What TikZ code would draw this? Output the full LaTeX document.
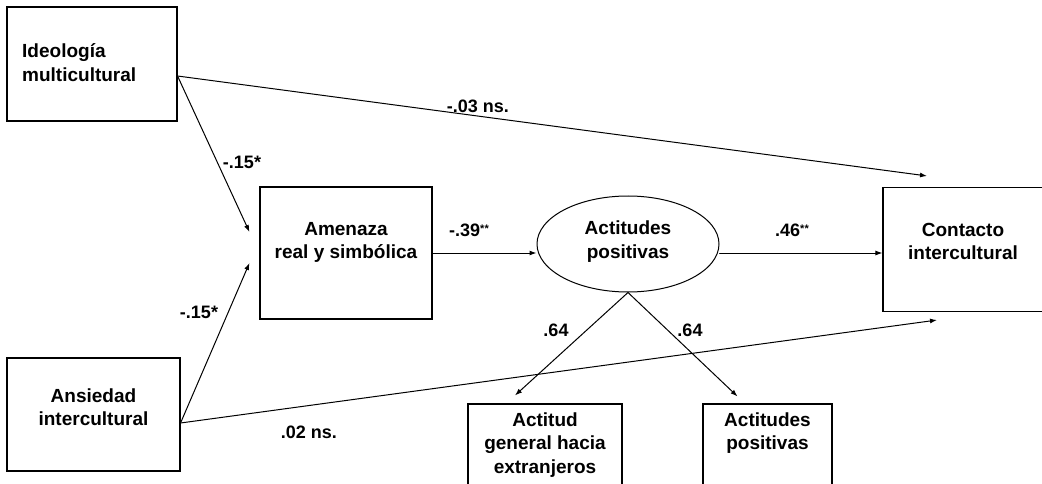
\documentclass[tikz,border=0pt]{standalone}
\usepackage{fontspec}
\setmainfont{Liberation Sans}
\usetikzlibrary{positioning,arrows.meta,shapes.geometric}

\tikzset{
  box/.style={draw, line width=1.1pt, rectangle, inner sep=0pt},
  txt/.style={align=center, inner sep=0pt, font=\fontsize{19}{23.5}\selectfont\bfseries},
  coef/.style={inner sep=0pt, font=\fontsize{18}{20}\selectfont\bfseries},
  arr/.style={-{Latex[length=7pt,width=5pt]}, line width=1pt},
}
\newcommand{\sig}[1]{\raisebox{4pt}{\fontsize{11}{11}\selectfont #1}}

\begin{document}
\begin{tikzpicture}[x=1pt,y=-1pt,line cap=round]
  \clip (0,0) rectangle (1042,484);
  \fill[white] (0,0) rectangle (1042,484);

  % predictores
  \node[box, minimum width=170pt, minimum height=114pt] (ideo) at (92,64) {};
  \node[txt, align=left, anchor=west] (ideotxt) at (22,62.5) {Ideología\\multicultural};

  \node[box, minimum width=173pt, minimum height=113pt] (ans) at (93.5,414.5) {};
  \node[txt] (anstxt) at (93.5,407) {Ansiedad\\intercultural};

  % mediador
  \node[box, minimum width=172pt, minimum height=132pt] (ame) at (346,253) {};
  \node[txt] (ametxt) at (346,242.5) {Amenaza\\real y simbólica};

  % latente
  \node[ellipse, draw, line width=1pt, minimum width=182pt, minimum height=96pt, inner sep=0pt] (ell) at (628,244) {};
  \node[txt] (elltxt) at (628,241.5) {Actitudes\\positivas};

  % criterio
  \node[box, minimum width=162pt, minimum height=124pt] (cont) at (964,249.5) {};
  \node[txt] (conttxt) at (963,241.5) {Contacto\\intercultural};

  % indicadores
  \node[box, minimum width=154pt, minimum height=100pt] (gen) at (545,454) {};
  \node[txt, below=9pt of gen.north] (gentxt) {Actitud\\general hacia\\extranjeros};

  \node[box, minimum width=129pt, minimum height=100pt] (pos) at (767.5,454) {};
  \node[txt, below=9pt of pos.north] (postxt) {Actitudes\\positivas};

  % rutas
  \draw[arr] ([yshift=-12pt]ideo.east) -- ([xshift=-10pt,yshift=21pt]ame.west);
  \draw[arr] ([yshift=-12pt]ideo.east) -- ([xshift=-37pt,yshift=11pt]cont.north);
  \draw[arr] ([yshift=-8.5pt]ans.east) -- ([xshift=-10pt,yshift=-10pt]ame.west);
  \draw[arr] ([yshift=-8.5pt]ans.east) -- ([xshift=-27pt,yshift=-8pt]cont.south);
  \draw[arr] (ame.east) -- (ame.east -| ell.west);
  \draw[arr] (ell.east |- ame.east) -- (cont.west |- ame.east);
  \draw[arr] (ell.south) -- ([xshift=-30pt,yshift=8pt]gen.north);
  \draw[arr] (ell.south) -- ([xshift=-30pt,yshift=7pt]pos.north);

  % coeficientes
  \node[coef] (c1) at (478,106) {-.03 ns.};
  \node[coef] (c2) at (242,162) {-.15*};
  \node[coef] (c3) at (469,230) {-.39\sig{**}};
  \node[coef] (c4) at (792,230) {.46\sig{**}};
  \node[coef] (c5) at (199,312) {-.15*};
  \node[coef] (c6) at (309,432) {.02 ns.};
  \node[coef] (c7) at (556,330) {.64};
  \node[coef] (c8) at (690,330) {.64};
\end{tikzpicture}
\end{document}
